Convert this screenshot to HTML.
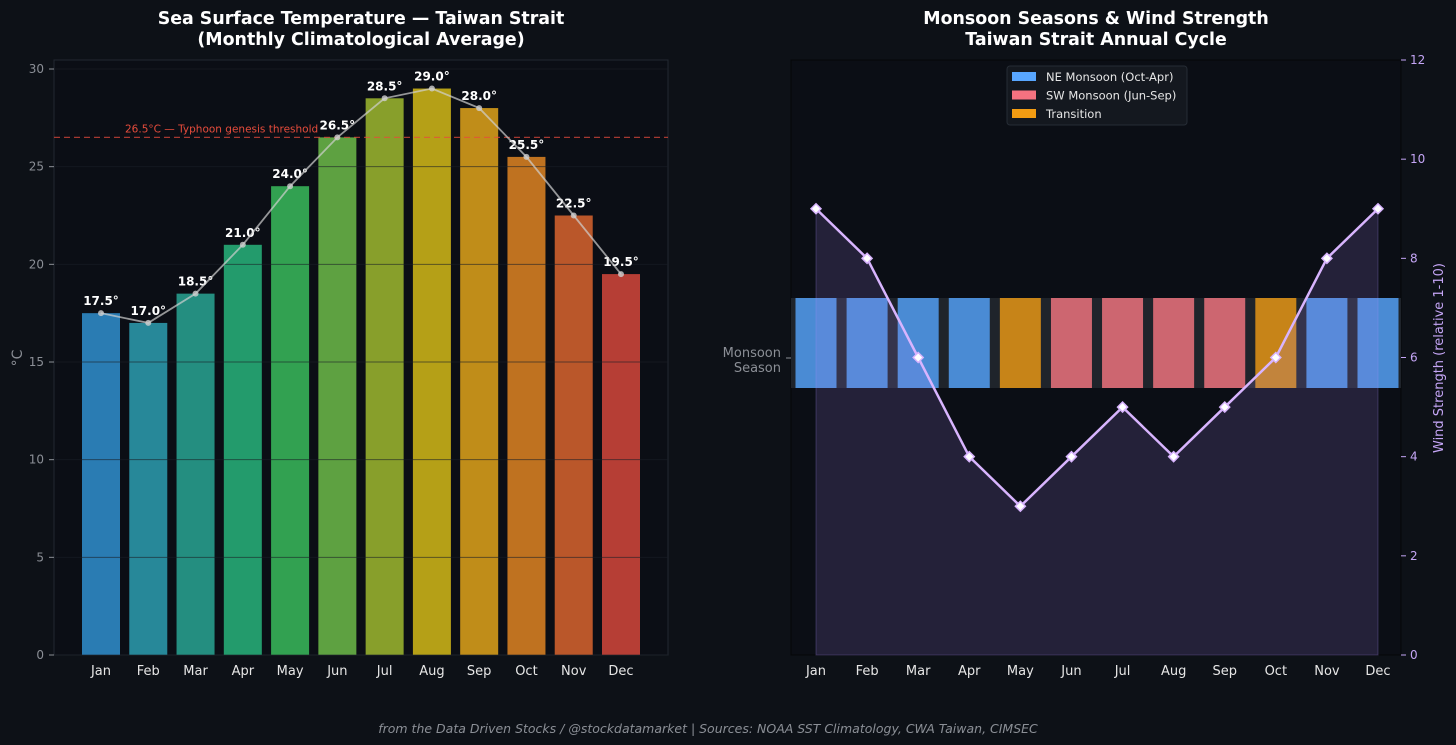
<!DOCTYPE html>
<html><head><meta charset="utf-8">
<style>
html,body{margin:0;padding:0;background:#0d1117;}
svg{display:block;font-family:"DejaVu Sans","Liberation Sans",sans-serif;}
</style></head>
<body>
<svg id="c" width="1456" height="745" viewBox="0 0 1456 745">
<rect x="0" y="0" width="1456" height="745" fill="#0d1117"/>
<text x="361" y="24" fill="#ffffff" font-size="17.4" font-weight="bold" text-anchor="middle">Sea Surface Temperature — Taiwan Strait</text>
<text x="361" y="45" fill="#ffffff" font-size="17.4" font-weight="bold" text-anchor="middle">(Monthly Climatological Average)</text>
<text x="1096" y="24" fill="#ffffff" font-size="17.4" font-weight="bold" text-anchor="middle">Monsoon Seasons &amp; Wind Strength</text>
<text x="1096" y="45" fill="#ffffff" font-size="17.4" font-weight="bold" text-anchor="middle">Taiwan Strait Annual Cycle</text>
<g id="left"></g>
<g id="right"></g>
<text x="708" y="733" fill="#8b8f96" font-size="12.5" font-style="italic" text-anchor="middle">from the Data Driven Stocks / @stockdatamarket  |  Sources: NOAA SST Climatology, CWA Taiwan, CIMSEC</text>
</svg>
<script>
const months = ["Jan","Feb","Mar","Apr","May","Jun","Jul","Aug","Sep","Oct","Nov","Dec"];
const sstValues = [17.5,17.0,18.5,21.0,24.0,26.5,28.5,29.0,28.0,25.5,22.5,19.5];
const sstTicks = [0,5,10,15,20,25,30];
const typhoonThreshold = 26.5;
const windValues = [9,8,6,4,3,4,5,4,5,6,8,9];
const windTicks = [0,2,4,6,8,10,12];
const seasons = ["NE","NE","NE","NE","TR","SW","SW","SW","SW","TR","NE","NE"];
const barColors = ["#2e86c1","#2a93a5","#27998a","#26a774","#36ae57","#66ae45","#94ab2e","#c4ac18","#d0981a","#cf7b22","#ca5d2c","#c64238"];
const seasonColors = {NE:"#4a8bd4",SW:"#cd6670",TR:"#c78418"};
const NS="http://www.w3.org/2000/svg";
function mk(parent,tag,attrs,text){const e=document.createElementNS(NS,tag);for(const k in attrs)e.setAttribute(k,attrs[k]);if(text!==undefined)e.textContent=text;parent.appendChild(e);return e;}

// LEFT
const L=document.getElementById('left');
const lx0=54,lx1=668,ly0=655,ly1=60;
const ly=v=>ly0-(v/30)*(655-69);
const lx=i=>101+i*(621-101)/11;
let e;
e=mk(L,'rect',{x:lx0,y:ly1,width:lx1-lx0,height:ly0-ly1,fill:'#0b0e15',stroke:'#222831'});

sstValues.forEach((v,i)=>{
  e=mk(L,'rect',{x:lx(i)-19,y:ly(v),width:38,height:ly0-ly(v),fill:barColors[i],opacity:0.92});
  
});
sstTicks.forEach(t=>{
  e=mk(L,'line',{x1:lx0,x2:lx1,y1:ly(t),y2:ly(t),stroke:'#1a1f27','stroke-width':1,opacity:0.6});
  
  e=mk(L,'text',{x:lx0-10,y:ly(t)+4,fill:'#8b8f96','font-size':12,'text-anchor':'end'},String(t));
  
  mk(L,'line',{x1:lx0-5,x2:lx0,y1:ly(t),y2:ly(t),stroke:'#8b8f96'});
});
e=mk(L,'text',{x:22,y:358,fill:'#8b8f96','font-size':14,'text-anchor':'middle',transform:'rotate(-90 22 358)'},'°C');

sstValues.forEach((v,i)=>{
  e=mk(L,'text',{x:lx(i),y:ly(v)-8,fill:'#ffffff','font-size':12,'font-weight':'bold','text-anchor':'middle'},v.toFixed(1)+'°');
  
  e=mk(L,'text',{x:lx(i),y:675,fill:'#e6e6e6','font-size':13,'text-anchor':'middle'},months[i]);
  
});
e=mk(L,'line',{x1:lx0,x2:lx1,y1:ly(typhoonThreshold),y2:ly(typhoonThreshold),stroke:'#e74c3c','stroke-width':1.2,'stroke-dasharray':'6 4',opacity:0.7});

e=mk(L,'text',{x:125,y:ly(typhoonThreshold)-5,fill:'#e74c3c','font-size':10.5},'26.5°C — Typhoon genesis threshold');

e=mk(L,'polyline',{points:sstValues.map((v,i)=>lx(i)+','+ly(v)).join(' '),fill:'none',stroke:'#d0d0d0','stroke-width':1.8,opacity:0.7});

sstValues.forEach((v,i)=>{
  e=mk(L,'circle',{cx:lx(i),cy:ly(v),r:3,fill:'#d0d0d0',opacity:0.8});
  
});

// RIGHT
const R=document.getElementById('right');
const rx0=791,rx1=1401,ry0=655,ry1=60;
const ry=v=>ry0-(v/12)*(ry0-ry1);
const rx=i=>816+i*(1378-816)/11;
e=mk(R,'rect',{x:rx0,y:ry1,width:rx1-rx0,height:ry0-ry1,fill:'#0b0e15',stroke:'#050608'});

e=mk(R,'rect',{x:rx0,y:298,width:rx1-rx0,height:90,fill:'#1f242b'});

seasons.forEach((s,i)=>{
  e=mk(R,'rect',{x:rx(i)-20.5,y:298,width:41,height:90,fill:seasonColors[s]});
  
  e=mk(R,'text',{x:rx(i),y:675,fill:'#e6e6e6','font-size':13,'text-anchor':'middle'},months[i]);
  
});
e=mk(R,'text',{x:781,y:357,fill:'#8b8f96','font-size':13,'text-anchor':'end'},'Monsoon');

e=mk(R,'text',{x:781,y:372,fill:'#8b8f96','font-size':13,'text-anchor':'end'},'Season');

mk(R,'line',{x1:786,x2:791,y1:358,y2:358,stroke:'#8b8f96'});
const area=windValues.map((v,i)=>rx(i)+','+ry(v)).join(' ');
e=mk(R,'polygon',{points:rx(0)+','+ry0+' '+area+' '+rx(11)+','+ry0,fill:'#a78bfa','fill-opacity':0.16,stroke:'#a78bfa','stroke-opacity':0.25});

e=mk(R,'polyline',{points:area,fill:'none',stroke:'#d8b4fe','stroke-width':2.5});

windValues.forEach((v,i)=>{
  const x=rx(i),y=ry(v);
  e=mk(R,'polygon',{points:`${x},${y-5} ${x+5},${y} ${x},${y+5} ${x-5},${y}`,fill:'#ffffff',stroke:'#d8b4fe','stroke-width':1.5});
  
});
windTicks.forEach(t=>{
  mk(R,'line',{x1:rx1,x2:rx1+5,y1:ry(t),y2:ry(t),stroke:'#c4a5f5'});
  e=mk(R,'text',{x:rx1+9,y:ry(t)+4,fill:'#c4a5f5','font-size':12},String(t));
  
});
e=mk(R,'text',{x:1443,y:358,fill:'#c4a5f5','font-size':13,'text-anchor':'middle',transform:'rotate(-90 1443 358)'},'Wind Strength (relative 1-10)');

// legend
const lg=mk(R,'g',{});

mk(lg,'rect',{x:1007,y:66,width:180,height:59,rx:3,fill:'#14181f',stroke:'#262c35'});
const legendItems=[["NE Monsoon (Oct-Apr)","#58a6ff"],["SW Monsoon (Jun-Sep)","#f47280"],["Transition","#f39c12"]];
legendItems.forEach((it,k)=>{
  const y=76+k*18.5;
  e=mk(lg,'rect',{x:1012,y:y-4,width:24,height:9,fill:it[1]});
  
  e=mk(lg,'text',{x:1046,y:y+5,fill:'#e6e6e6','font-size':11.5},it[0]);
  
});
</script>
</body></html>
